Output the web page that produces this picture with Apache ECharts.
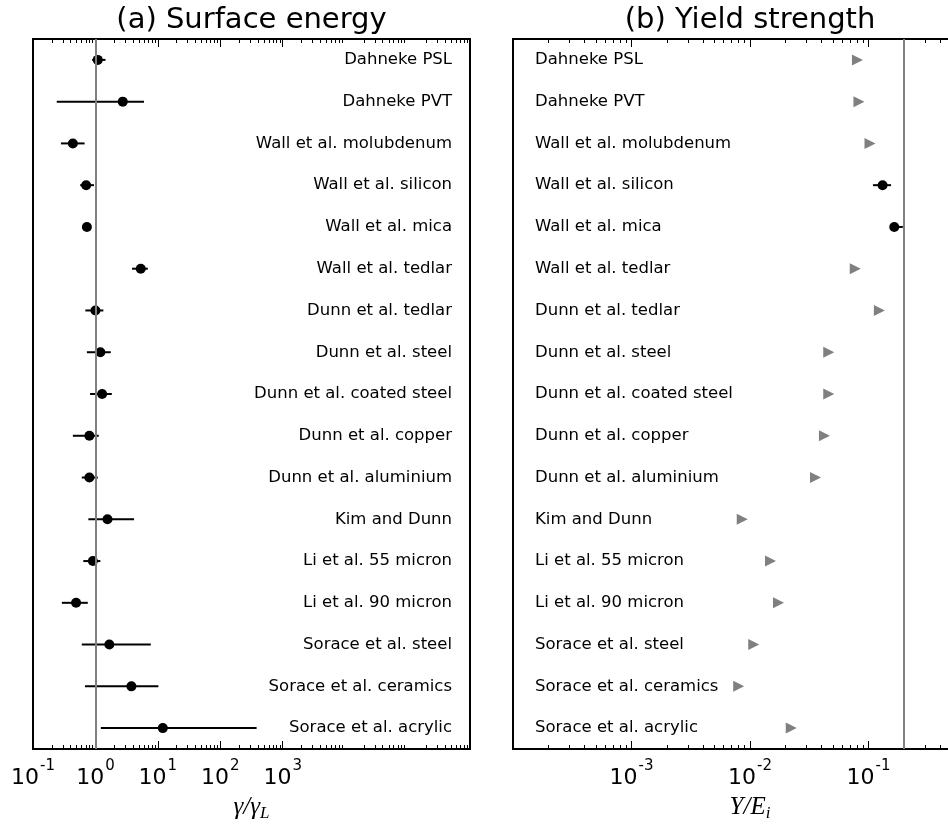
<!DOCTYPE html>
<html>
<head>
<meta charset="utf-8">
<script src="https://cdn.jsdelivr.net/npm/echarts@6/dist/echarts.min.js"></script>
<style>
html,body{margin:0;padding:0;background:#fff;}
#chart{width:948px;height:827px;}
</style>
</head>
<body>
<div id="chart"></div>
<script>
const categories = ['Dahneke PSL','Dahneke PVT','Wall et al. molubdenum','Wall et al. silicon','Wall et al. mica','Wall et al. tedlar','Dunn et al. tedlar','Dunn et al. steel','Dunn et al. coated steel','Dunn et al. copper','Dunn et al. aluminium','Kim and Dunn','Li et al. 55 micron','Li et al. 90 micron','Sorace et al. steel','Sorace et al. ceramics','Sorace et al. acrylic'];

// (a) surface energy gamma/gamma_L
const surfaceValue = [1.09, 2.74, 0.435, 0.71, 0.73, 5.32, 1.0, 1.2, 1.28, 0.80, 0.80, 1.56, 0.91, 0.49, 1.67, 3.77, 12.0];
const surfaceLow   = [0.885, 0.24, 0.28, 0.57, 0.68, 3.86, 0.69, 0.73, 0.82, 0.435, 0.605, 0.77, 0.64, 0.29, 0.605, 0.68, 1.22];
const surfaceHigh  = [1.45, 6.0, 0.67, 0.95, 0.78, 6.9, 1.34, 1.76, 1.83, 1.13, 1.09, 4.16, 1.2, 0.755, 7.7, 10.2, 382];

// (b) yield strength Y/E_i : estimated (triangles) and measured (circles)
const yieldEstimate = [0.0807, 0.083, 0.103, null, null, 0.0773, 0.1236, 0.0462, 0.0462, 0.0425, 0.0357, 0.0086, 0.0149, 0.0174, 0.01076, 0.00803, 0.0223];
const yieldMeasuredCat  = ['Wall et al. silicon', 'Wall et al. mica'];
const yieldMeasured     = [0.1315, 0.165];
const yieldMeasuredLow  = [0.109, 0.153];
const yieldMeasuredHigh = [0.155, 0.195];

const surfaceRef = 1;
const yieldRef = 0.2;
const surfaceTicks = [0.1, 1, 10, 100, 1000];
const yieldTicks = [0.001, 0.01, 0.1];

const chart = echarts.init(document.getElementById('chart'));

function powLabel(v) {
  const e = Math.round(Math.log10(v));
  return '{b|10}{s|' + e + '}';
}

function xAxisCfg(gridIndex, min, max, ticks, bottom, nameText) {
  const cfg = {
    type: 'log', logBase: 10, gridIndex: gridIndex, min: min, max: max,
    position: bottom ? 'bottom' : 'top',
    axisLine: {show: false},
    splitLine: {show: false},
    axisTick: {show: true, inside: true, length: 8, lineStyle: {color: '#000', width: 1}, customValues: ticks},
    minorTick: {show: true, splitNumber: 9, length: 4, lineStyle: {color: '#000', width: 1}},
    axisLabel: bottom ? {
      show: true, margin: 10, customValues: ticks,
      formatter: powLabel,
      rich: {
        b: {fontFamily: 'DejaVu Sans', fontSize: 22, color: '#000', lineHeight: 30, verticalAlign: 'bottom'},
        s: {fontFamily: 'DejaVu Sans', fontSize: 15, color: '#000', lineHeight: 30, verticalAlign: 'top', padding: [0,0,0,1]}
      }
    } : {show: false}
  };
  if (bottom) {
    cfg.name = nameText;
    cfg.nameLocation = 'middle';
    cfg.nameGap = 44;
    cfg.nameTextStyle = {
      rich: {
        i: {fontFamily: 'Liberation Serif', fontStyle: 'italic', fontSize: 25, color: '#000'},
        sub: {fontFamily: 'Liberation Serif', fontStyle: 'italic', fontSize: 17, color: '#000', verticalAlign: 'bottom', padding: [12,0,0,0]}
      }
    };
  }
  return cfg;
}

function errorBarSeries(xAxisIndex, yAxisIndex, cats, low, high) {
  return {
    type: 'custom', xAxisIndex: xAxisIndex, yAxisIndex: yAxisIndex, z: 3, silent: true,
    data: cats.map((c, i) => [low[i], high[i], c]),
    encode: {x: [0, 1], y: 2},
    renderItem: function (params, api) {
      const a = api.coord([api.value(0), api.value(2)]);
      const b = api.coord([api.value(1), api.value(2)]);
      return {type: 'line', shape: {x1: a[0], y1: a[1], x2: b[0], y2: b[1]}, style: {stroke: '#000', lineWidth: 2}};
    }
  };
}

const refLine = (val) => ({
  silent: true, symbol: ['none', 'none'], label: {show: false},
  lineStyle: {color: '#808080', width: 2, type: 'solid', opacity: 1},
  emphasis: {disabled: true},
  data: [{xAxis: val}]
});

const labelStyle = {fontFamily: 'DejaVu Sans', fontSize: 16.5, color: '#000'};

const option = {
  animation: false,
  backgroundColor: '#fff',
  graphic: [
    {type: 'text', x: 251.5, y: 20, style: {text: '(a) Surface energy', font: '29px "DejaVu Sans"', fill: '#000', align: 'center', verticalAlign: 'middle'}},
    {type: 'text', x: 750, y: 20, style: {text: '(b) Yield strength', font: '29px "DejaVu Sans"', fill: '#000', align: 'center', verticalAlign: 'middle'}}
  ],
  grid: [
    {left: 33, width: 437, top: 39, height: 710, show: true, borderColor: '#000', borderWidth: 2, backgroundColor: 'transparent', containLabel: false, outerBoundsMode: 'none'},
    {left: 513, width: 474, top: 39, height: 710, show: true, borderColor: '#000', borderWidth: 2, backgroundColor: 'transparent', containLabel: false, outerBoundsMode: 'none'}
  ],
  xAxis: [
    xAxisCfg(0, 0.1, 1e6, surfaceTicks, true, '{i|γ/γ}{sub|L}'),
    xAxisCfg(0, 0.1, 1e6, surfaceTicks, false),
    xAxisCfg(1, 1e-4, 1, yieldTicks, true, '{i|Y/E}{sub|i}'),
    xAxisCfg(1, 1e-4, 1, yieldTicks, false)
  ],
  yAxis: [
    {type: 'category', gridIndex: 0, data: categories, inverse: true, position: 'right',
     axisLine: {show: false}, axisTick: {show: false}, splitLine: {show: false},
     axisLabel: Object.assign({inside: true, margin: 18, align: 'right'}, labelStyle)},
    {type: 'category', gridIndex: 1, data: categories, inverse: true, position: 'left',
     axisLine: {show: false}, axisTick: {show: false}, splitLine: {show: false},
     axisLabel: Object.assign({inside: true, margin: 22, align: 'left'}, labelStyle)}
  ],
  series: [
    {type: 'line', xAxisIndex: 0, yAxisIndex: 0, data: [], markLine: refLine(surfaceRef), z: 1},
    errorBarSeries(0, 0, categories, surfaceLow, surfaceHigh),
    {type: 'scatter', xAxisIndex: 0, yAxisIndex: 0, z: 4, symbol: 'circle', symbolSize: 10,
     itemStyle: {color: '#000', opacity: 1}, data: categories.map((c, i) => [surfaceValue[i], c])},
    {type: 'line', xAxisIndex: 2, yAxisIndex: 1, data: [], markLine: refLine(yieldRef), z: 1},
    {type: 'scatter', xAxisIndex: 2, yAxisIndex: 1, z: 4, symbol: 'path://M0,0 L10,5 L0,10 Z', symbolSize: [11, 11],
     itemStyle: {color: '#808080', opacity: 1},
     data: categories.map((c, i) => yieldEstimate[i] == null ? null : [yieldEstimate[i], c]).filter(d => d)},
    errorBarSeries(2, 1, yieldMeasuredCat, yieldMeasuredLow, yieldMeasuredHigh),
    {type: 'scatter', xAxisIndex: 2, yAxisIndex: 1, z: 4, symbol: 'circle', symbolSize: 10,
     itemStyle: {color: '#000', opacity: 1}, data: yieldMeasuredCat.map((c, i) => [yieldMeasured[i], c])}
  ]
};
chart.setOption(option);
</script>
</body>
</html>
